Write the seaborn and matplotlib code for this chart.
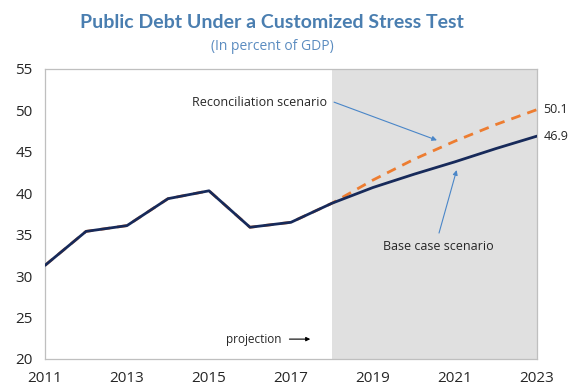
import matplotlib
matplotlib.use("Agg")
import matplotlib.pyplot as plt
import seaborn as sns
import pandas as pd

# Public debt path (percent of GDP)
years = [2011, 2012, 2013, 2014, 2015, 2016, 2017, 2018, 2019, 2020, 2021, 2022, 2023]
base_case = [31.3, 35.4, 36.1, 39.35, 40.3, 35.9, 36.5, 38.8, 40.7, 42.3, 43.8, 45.4, 46.9]
reconciliation = [31.3, 35.4, 36.1, 39.35, 40.3, 35.9, 36.5, 38.8, 41.6, 44.1, 46.3, 48.3, 50.1]
projection_start = 2018
x_ticks = [2011, 2013, 2015, 2017, 2019, 2021, 2023]
y_ticks = [20, 25, 30, 35, 40, 45, 50, 55]

df = pd.DataFrame({"year": years, "base": base_case, "recon": reconciliation})

sns.set_theme(style="white")
plt.rcParams["font.family"] = ["Open Sans", "DejaVu Sans"]

fig = plt.figure(figsize=(5.68, 3.87), dpi=100)
ax = fig.add_axes([45 / 568, 1 - 359 / 387, 492 / 568, 290 / 387])

navy = "#172a5a"
orange = "#ed7d31"
frame = "#bfbfbf"
arrow_blue = "#4a86c8"

# shaded projection period
ax.axvspan(projection_start, years[-1], color="#e0e0e0", lw=0, zorder=0)

sns.lineplot(data=df, x="year", y="recon", ax=ax, color=orange, lw=2.0,
             dashes=False, zorder=2)
ax.lines[-1].set_dashes([3.5, 2.6])
sns.lineplot(data=df, x="year", y="base", ax=ax, color=navy, lw=2.0, zorder=3)

ax.set_xlim(years[0], years[-1])
ax.set_ylim(y_ticks[0], y_ticks[-1])
ax.set_xticks(x_ticks)
ax.set_yticks(y_ticks)
ax.set_xlabel("")
ax.set_ylabel("")

for s in ax.spines.values():
    s.set_visible(True)
    s.set_color(frame)
    s.set_linewidth(0.9)
ax.tick_params(axis="both", direction="in", length=5, width=0.9, color=frame,
               labelsize=11, labelcolor="#262626")
ax.tick_params(axis="x", pad=9)
ax.tick_params(axis="y", pad=9)
ax.grid(False)

# end-of-horizon values
ax.annotate(f"{reconciliation[-1]:.1f}", xy=(years[-1], reconciliation[-1]),
            xytext=(4.5, 0), textcoords="offset points", ha="left", va="center",
            fontsize=9, color="#262626", annotation_clip=False)
ax.annotate(f"{base_case[-1]:.1f}", xy=(years[-1], base_case[-1]),
            xytext=(4.5, 0), textcoords="offset points", ha="left", va="center",
            fontsize=9, color="#262626", annotation_clip=False)

# scenario callouts
ax.text(2017.88, 51.0, "Reconciliation scenario", ha="right", va="center",
        fontsize=9, color="#262626")
ax.annotate("", xy=(2020.56, 46.4), xytext=(2018.05, 51.0),
            arrowprops=dict(arrowstyle="-|>", color=arrow_blue, lw=0.8,
                            mutation_scale=7, shrinkA=0, shrinkB=0))
ax.text(2020.59, 33.6, "Base case scenario", ha="center", va="center",
        fontsize=9, color="#262626")
ax.annotate("", xy=(2021.04, 42.8), xytext=(2020.61, 35.2),
            arrowprops=dict(arrowstyle="-|>", color=arrow_blue, lw=0.8,
                            mutation_scale=7, shrinkA=0, shrinkB=0))

ax.annotate("projection", xy=(2017.47, 22.4), xytext=(2016.78, 22.4),
            ha="right", va="center", fontsize=8.5, color="#262626",
            arrowprops=dict(arrowstyle="-|>", color="black", lw=0.8,
                            mutation_scale=6, shrinkA=3, shrinkB=0))

fig.text(272 / 568, 1 - 22 / 387, "Public Debt Under a Customized Stress Test",
         ha="center", va="center", fontsize=14, fontweight="bold",
         color="#4a7eb0", family=["Lato", "DejaVu Sans"])
fig.text(272 / 568, 1 - 46 / 387, "(In percent of GDP)", ha="center",
         va="center", fontsize=10, color="#5b8cc0")

fig.savefig("out.png", dpi=100)
